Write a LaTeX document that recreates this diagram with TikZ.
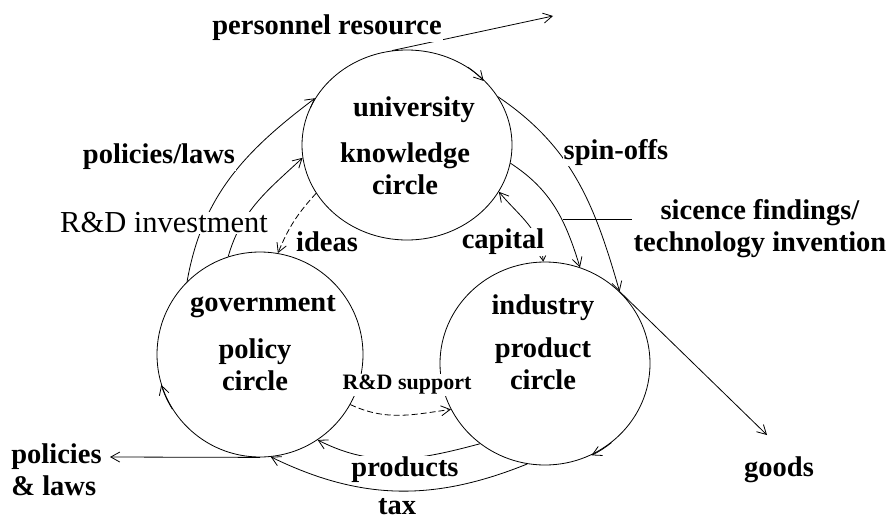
\documentclass[tikz,border=0pt]{standalone}
\usepackage{fontspec}
\setmainfont{Liberation Serif}
\usetikzlibrary{shapes.geometric, positioning, arrows.meta, calc}

\begin{document}
\begin{tikzpicture}[
    x=1pt, y=1pt,
    line width=0.8pt,
    ring/.style={draw, ellipse, inner sep=0pt},
    lbl/.style={font=\fontsize{28.5}{32}\selectfont\bfseries, align=center, inner sep=1pt, fill=white},
    flow/.style={-{Straight Barb[length=9pt, width=10pt]}},
    twoway/.style={{Straight Barb[length=5pt, width=6pt]}-{Straight Barb[length=9pt, width=10pt]}},
    dashline/.style={dash pattern=on 6pt off 3pt}
]
    \useasboundingbox (0,0) rectangle (893,-525);

    % Circles
    \node[ring, minimum width=210pt, minimum height=190pt] (uni) at (407,-145) {};
    \node[ring, minimum width=206pt, minimum height=205pt] (gov) at (260,-354.5) {};
    \node[ring, minimum width=210pt, minimum height=203pt] (ind) at (545,-363.5) {};

    % Flow along the circles
    \draw[flow] (uni.52) arc[start angle=52, end angle=40, x radius=105, y radius=95];
    \draw[flow] (ind.-50) arc[start angle=-50, end angle=-63, x radius=105, y radius=101.5];
    \draw[flow] (gov.212) arc[start angle=212, end angle=197, x radius=103, y radius=102.5];

    % Connectors
    \coordinate (pres) at (553,-16);
    \draw[flow] (uni.99) -- (pres);
    \draw[flow] (gov.135) to[out=80, in=217] (uni.153);
    \draw[flow] (gov.108) to[out=74, in=223] (uni.187);
    \draw[flow, dashline] (uni.208) to[bend right=10] (gov.80);
    \draw[twoway] (ind.91) to[out=95, in=-50] (uni.-27);
    \draw[flow] (uni.-10) to[out=-33, in=107] (ind.70);
    \draw[flow] (uni.28) to[out=-34, in=106] (ind.44);
    \coordinate (gd) at (767,-435);
    \draw[flow] (ind.44) -- (gd);
    \draw[flow, dashline] (gov.-29) to[out=-25, in=188] (ind.206);
    \draw[flow] (ind.231) to[out=195, in=-27] (gov.-56);
    \draw[flow] (ind.260) to[out=202, in=-26] (gov.-84);
    \coordinate (pl) at (110,-457);
    \draw[flow] (gov.south) -- (pl);

    % Labels
    \node[lbl] (pres-l) at (327,-28) {personnel resource};
    \node[lbl] (uni-t) at (414,-110) {university};
    \node[lbl] (uni-b) at (405,-169) {knowledge\\circle};
    \node[lbl] (polic) at (159,-157) {policies/laws};
    \node[lbl, font=\fontsize{30.5}{32}\selectfont] (rdinv) at (164,-223) {R\&D investment};
    \node[lbl] (ideas) at (327,-242) {ideas};
    \node[lbl] (cap) at (503,-242) {capital};
    \node[lbl] (spin) at (616,-152) {spin-offs};
    \node[lbl] (sci) at (760,-229) {sicence findings/\\technology invention};
    \coordinate (sf) at (563,-219);
    \draw (sf) -- (sf -| sci.west);
    \node[lbl] (gov-t) at (263,-307) {government};
    \node[lbl] (gov-b) at (255,-365) {policy\\circle};
    \node[lbl] (ind-t) at (543,-308) {industry};
    \node[lbl] (ind-b) at (543,-364) {product\\circle};
    \node[lbl, font=\fontsize{22}{24}\selectfont\bfseries] (rdsup) at (407,-385) {R\&D support};
    \node[lbl] (prod) at (405,-470) {products};
    \node[lbl] (tax) at (397,-507) {tax};
    \node[lbl, align=left, anchor=west] (laws) at (10,-470) {policies\\\& laws};
    \node[lbl] (goods) at (779,-470) {goods};
\end{tikzpicture}
\end{document}
